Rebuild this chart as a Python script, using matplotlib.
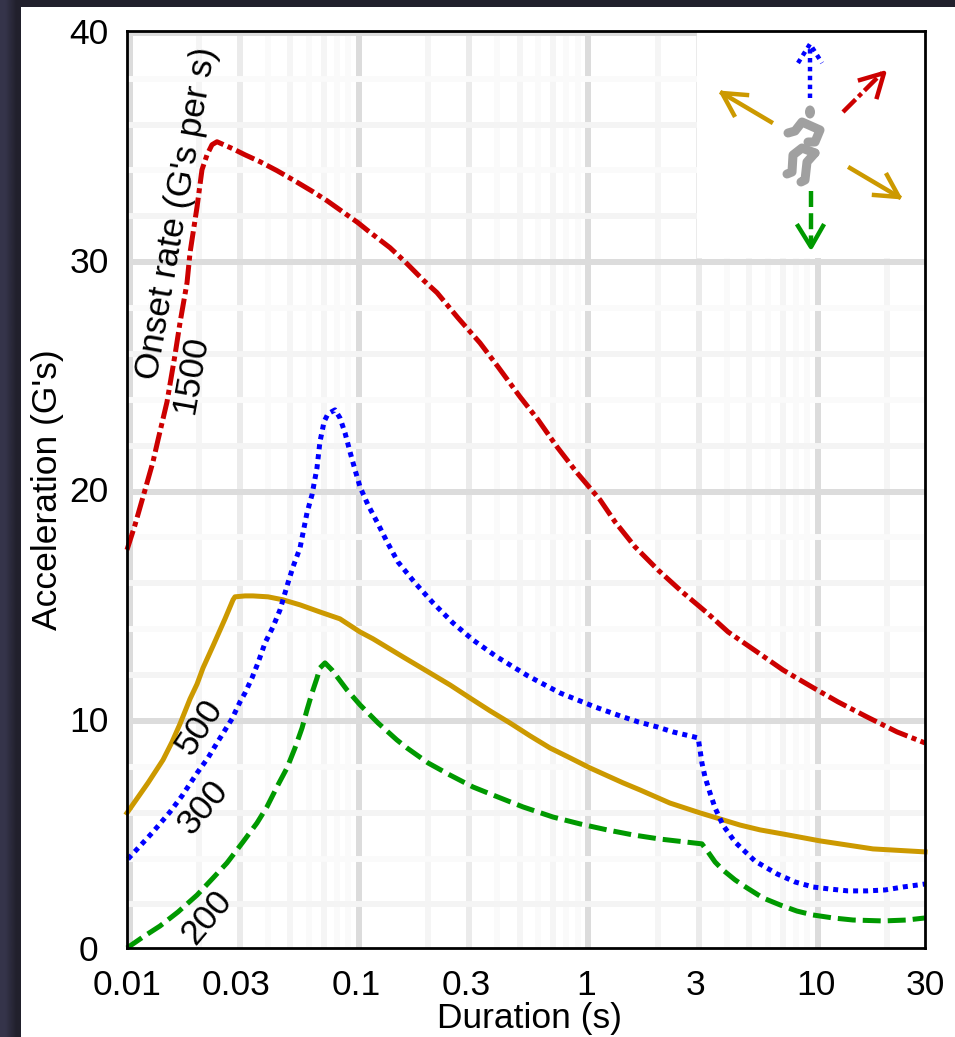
import matplotlib
matplotlib.use("Agg")
import matplotlib.pyplot as plt
from matplotlib.colors import LinearSegmentedColormap
from matplotlib.patches import Rectangle, Ellipse
from matplotlib.ticker import NullLocator
from matplotlib.transforms import ScaledTranslation

plt.rcParams['font.family'] = ['Liberation Sans', 'DejaVu Sans']

# curves
t_1500 = [0.01, 0.01084, 0.01198, 0.01298, 0.01365, 0.01494, 0.01619, 0.01702, 0.01826, 0.01882,
          0.0202, 0.02122, 0.02232, 0.02346, 0.02467, 0.02897, 0.03268, 0.03798, 0.04504, 0.0529,
          0.06465, 0.07437, 0.0847, 0.1015, 0.1122, 0.14, 0.1627, 0.1949, 0.2243, 0.2769,
          0.3452, 0.4135, 0.5158, 0.6179, 0.7474, 0.9138, 1.151, 1.338, 1.635, 2.06,
          2.62, 3.37, 4.16, 5.56, 7.22, 9.65, 12.53, 16.8, 22.66, 30]
g_1500 = [17.36, 18.45, 19.97, 21.2, 22.15, 23.81, 25.86, 27.26, 29.0, 30.31,
          32.32, 33.93, 34.58, 35.02, 35.15, 34.84, 34.58, 34.28, 33.89, 33.49,
          32.97, 32.58, 32.18, 31.62, 31.27, 30.53, 29.92, 29.13, 28.57, 27.47,
          26.38, 25.34, 24.03, 23.03, 21.85, 20.72, 19.54, 18.58, 17.49, 16.48,
          15.53, 14.61, 13.78, 12.91, 12.12, 11.38, 10.73, 10.07, 9.42, 8.94]

t_500 = [0.01, 0.01235, 0.01435, 0.01571, 0.01702, 0.01882, 0.0202, 0.02144, 0.0237, 0.02673,
         0.02897, 0.02955, 0.03268, 0.0354, 0.04115, 0.0478, 0.05674, 0.0693, 0.0847, 0.1036,
         0.118, 0.1595, 0.2091, 0.2555, 0.3123, 0.3817, 0.4665, 0.5703, 0.697, 0.8518,
         1.041, 1.45, 1.72, 2.32, 3.14, 4.69, 5.73, 7.22, 10.46, 17.8, 30]
g_500 = [5.89, 7.2, 8.2, 8.98, 9.77, 10.86, 11.51, 12.21, 13.17, 14.35,
         15.18, 15.31, 15.35, 15.35, 15.31, 15.18, 14.96, 14.65, 14.35, 13.78,
         13.48, 12.69, 11.99, 11.47, 10.9, 10.34, 9.81, 9.25, 8.72, 8.29,
         7.85, 7.2, 6.89, 6.32, 5.89, 5.36, 5.15, 4.97, 4.67, 4.32, 4.19]

t_300 = [0.0101, 0.01298, 0.01539, 0.01736, 0.0202, 0.02254, 0.02467, 0.02727, 0.02867, 0.03108,
         0.03268, 0.03504, 0.03722, 0.03994, 0.04327, 0.04642, 0.05029, 0.0529, 0.05674, 0.06085,
         0.064, 0.06727, 0.0693, 0.07075, 0.0722, 0.0751, 0.0806, 0.0847, 0.0891, 0.09369,
         0.0985, 0.1036, 0.1122, 0.1228, 0.1358, 0.1516, 0.1798, 0.2154, 0.2633, 0.3218,
         0.4094, 0.559, 0.7703, 1.094, 1.407, 1.685, 2.04, 2.394, 3.08, 3.14,
         3.2, 3.3, 3.47, 3.65, 3.95, 4.46, 5.45, 6.8, 8.14, 9.75,
         11.57, 13.85, 16.8, 20.08, 24.06, 30]
g_300 = [3.88, 5.06, 5.93, 6.63, 7.63, 8.29, 8.94, 9.64, 9.99, 10.73,
         11.12, 11.77, 12.43, 13.3, 14.0, 14.74, 15.92, 16.62, 17.44, 18.97,
         19.76, 20.93, 22.07, 22.5, 22.94, 23.29, 23.46, 23.11, 22.46, 21.63,
         20.85, 20.1, 19.32, 18.58, 17.71, 16.83, 15.92, 15.05, 14.17, 13.43,
         12.69, 11.86, 11.12, 10.51, 10.12, 9.86, 9.64, 9.42, 9.16, 8.63,
         8.07, 7.46, 6.76, 6.11, 5.36, 4.62, 3.79, 3.23, 2.88, 2.66,
         2.57, 2.49, 2.49, 2.53, 2.66, 2.79]

t_200 = [0.01, 0.01174, 0.01393, 0.01668, 0.0202, 0.0237, 0.02727, 0.032, 0.03685, 0.0407,
         0.04549, 0.0498, 0.05395, 0.0579, 0.06085, 0.064, 0.06727, 0.0693, 0.0729, 0.0782,
         0.0909, 0.1036, 0.1241, 0.15, 0.166, 0.2049, 0.2555, 0.3218, 0.393, 0.5315,
         0.718, 0.9417, 1.234, 1.602, 2.1, 3.2, 3.4, 3.65, 3.95, 4.46,
         5.03, 5.91, 7.0, 8.3, 9.75, 11.92, 14.57, 19.7, 25.0, 30]
g_200 = [0, 0.48, 0.96, 1.57, 2.31, 3.05, 3.71, 4.62, 5.45, 6.15,
         7.11, 7.85, 8.72, 9.59, 10.38, 11.12, 11.77, 12.21, 12.43, 12.12,
         11.25, 10.6, 9.81, 9.07, 8.72, 8.07, 7.54, 7.02, 6.67, 6.15,
         5.71, 5.41, 5.15, 4.93, 4.75, 4.54, 4.19, 3.75, 3.4, 2.97,
         2.62, 2.18, 1.88, 1.61, 1.44, 1.31, 1.22, 1.18, 1.22, 1.31]

x_ticks = [0.01, 0.03, 0.1, 0.3, 1, 3, 10, 30]
x_labels = ['0.01', '0.03', '0.1', '0.3', '1', '3', '10', '30']
y_ticks = [0, 10, 20, 30, 40]

# the grid in the source sits a little off the tick positions
vgrid_dark = [0.0103, 0.1025, 1.025, 10.25]
vgrid_mid = [0.031, 0.31, 3.1]
vgrid_light = [0.0205, 0.0515, 0.072, 0.205, 0.515, 0.72, 2.05, 5.15, 7.2, 20.5]
vgrid_faint = [0.041, 0.062, 0.082, 0.092, 0.41, 0.62, 0.82, 0.92, 4.1, 6.2, 8.2, 9.2]
hgrid_dark = [9.9, 19.9, 29.9, 39.9]
hgrid_light = [1.9, 5.9, 11.9, 15.9, 21.9, 25.9, 31.9, 35.9]
hgrid_faint = [3.9, 7.9, 13.9, 17.9, 23.9, 27.9, 33.9, 37.9]

W, H = 955, 1037
fig = plt.figure(figsize=(W / 100, H / 100), dpi=100, facecolor='#21202c')

# white card on the dark page
bg = fig.add_axes([0, 0, 1, 1])
page = LinearSegmentedColormap.from_list('page', ['#35344a', '#21202c'])
bg.imshow([[0, 1]], cmap=page, extent=(0, 21, H, 0), aspect='auto', interpolation='bilinear')
bg.set_xlim(0, W)
bg.set_ylim(H, 0)
bg.axis('off')
bg.add_patch(Rectangle((21, 7), W - 21, H - 7, color='white', lw=0))

ax = fig.add_axes([127 / W, 1 - 948 / H, 798 / W, 917.5 / H])
ax.set_facecolor('none')
ax.set_xscale('log')
ax.set_xlim(0.01, 30)
ax.set_ylim(0, 40)

for v in vgrid_faint:
    ax.axvline(v, color='#fafafa', lw=4.3, zorder=1)
for v in vgrid_light:
    ax.axvline(v, color='#f5f5f5', lw=4.3, zorder=1)
for v in vgrid_mid:
    ax.axvline(v, color='#ebebeb', lw=4.3, zorder=1)
for v in vgrid_dark:
    ax.axvline(v, color='#dcdcdc', lw=4.3, zorder=1)
for v in hgrid_faint:
    ax.axhline(v, color='#fafafa', lw=4.3, zorder=1)
for v in hgrid_light:
    ax.axhline(v, color='#f4f4f4', lw=4.3, zorder=1)
for v in hgrid_dark:
    ax.axhline(v, color='#dcdcdc', lw=4.3, zorder=1)

# grid is blanked behind the icon
ax.add_patch(Rectangle((3.045, 30.08), 30 - 3.045, 9.92, color='white', lw=0, zorder=2))

ax.plot(t_1500, g_1500, color='#cc0000', lw=3.6, ls=(0, (4, 0.9, 1, 0.9)), zorder=3, clip_on=False)
ax.plot(t_500, g_500, color='#cc9900', lw=3.6, zorder=3, clip_on=False)
ax.plot(t_300, g_300, color='#0000ff', lw=3.6, ls=(0, (1, 1)), zorder=3, clip_on=False)
ax.plot(t_200, g_200, color='#009900', lw=3.6, ls=(0, (3.6, 1.4)), zorder=3, clip_on=False)

ax.set_xticks(x_ticks)
ax.set_xticklabels(x_labels)
ax.xaxis.set_minor_locator(NullLocator())
ax.set_yticks(y_ticks)
ax.tick_params(axis='both', length=0, labelsize=25.5)
ax.tick_params(axis='x', pad=15)
ax.tick_params(axis='y', pad=13)
zero = ax.get_yticklabels()[0]
zero.set_transform(zero.get_transform() + ScaledTranslation(-0.11, 0, fig.dpi_scale_trans))

ax.set_xlabel("Duration (s)", fontsize=25.5)
ax.xaxis.set_label_coords(0.505, -0.059)
ax.set_ylabel("Acceleration (G's)", fontsize=25.5)
ax.yaxis.set_label_coords(-0.0787, 0.5)

for s in ax.spines.values():
    s.set_linewidth(2)
    s.set_color('black')
    s.set_zorder(5)

# overlay in picture pixels for labels and the icon
top = fig.add_axes([0, 0, 1, 1])
top.set_xlim(0, W)
top.set_ylim(H, 0)
top.axis('off')
top.patch.set_alpha(0)

top.text(177, 213, "Onset rate (G's per s)", fontsize=25.3, rotation=80, ha='center', va='center', rotation_mode='anchor')
top.text(191, 375, "1500", fontsize=25.5, rotation=80, ha='center', va='center', rotation_mode='anchor')
top.text(200, 727, "500", fontsize=25.5, rotation=57, ha='center', va='center', rotation_mode='anchor')
top.text(203, 807, "300", fontsize=25.5, rotation=50, ha='center', va='center', rotation_mode='anchor')
top.text(207, 917, "200", fontsize=25.5, rotation=50, ha='center', va='center', rotation_mode='anchor')

# arrows around the figure
def arrow(shaft, head, color, ls, head_ls):
    top.plot([p[0] for p in shaft], [p[1] for p in shaft], color=color, lw=3.2, ls=ls)
    top.plot([p[0] for p in head], [p[1] for p in head], color=color, lw=3.2, ls=head_ls)

arrow([(810, 98), (810, 45)], [(798, 63), (810, 44), (822, 63)], '#0000ff', (0, (1, 1)), (0, (1, 1)))
arrow([(843, 112), (882, 73)], [(860, 80), (884, 73), (877, 97)], '#cc0000', (0, (4, 0.9, 1, 0.9)), '-')
arrow([(771, 122), (722, 93)], [(747, 95), (722, 93), (734, 115)], '#cc9900', '-', '-')
arrow([(850, 168), (899, 197)], [(887, 175), (899, 197), (874, 195)], '#cc9900', '-', '-')
arrow([(811, 191), (811, 247)], [(798, 226), (811, 247), (823, 226)], '#009900', (0, (3.6, 1.4)), '-')

person = '#a0a0a0'
top.add_patch(Ellipse((810, 112), 10, 13, color=person, lw=0))
for limb in ([(788, 133), (795, 131), (802, 122), (820, 130), (815, 142), (808, 142)],
             [(815, 153), (802, 148), (793, 155), (792, 172), (787, 174)],
             [(815, 153), (807, 162), (805, 180), (801, 182)]):
    top.plot([p[0] for p in limb], [p[1] for p in limb], color=person, lw=6.5,
             solid_capstyle='round', solid_joinstyle='round')

fig.savefig('out.png', dpi=100, facecolor=fig.get_facecolor())
